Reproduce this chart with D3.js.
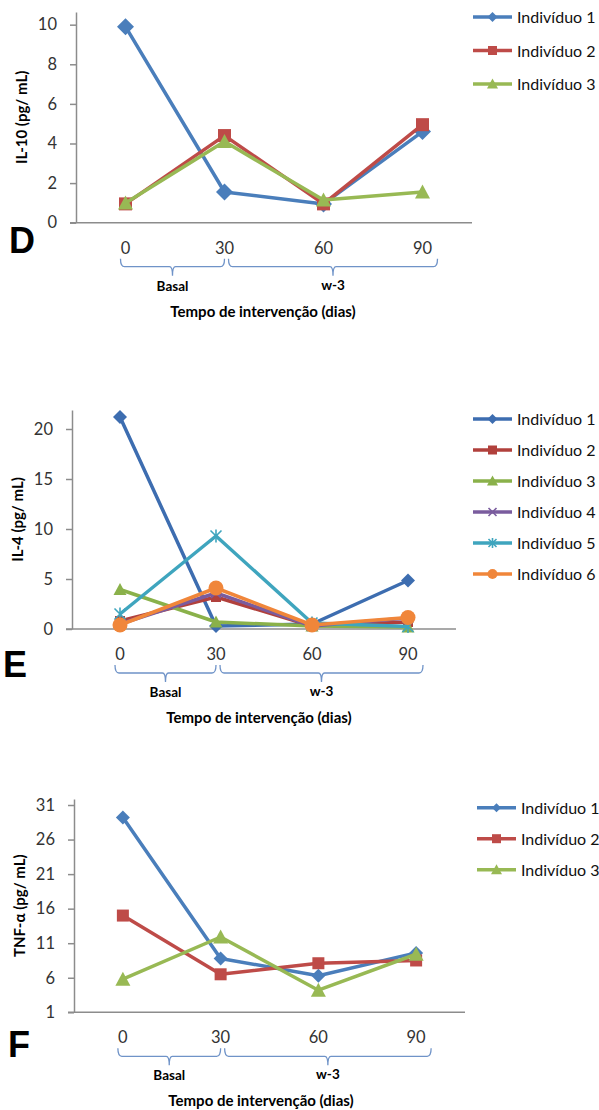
<!DOCTYPE html>
<html>
<head>
<meta charset="utf-8">
<script src="https://cdn.jsdelivr.net/npm/d3@7/dist/d3.min.js"></script>
<style>
    body { margin: 0; background: #fff; }
    svg { display: block; font-family: Lato, "Open Sans", sans-serif; }
</style>
</head>
<body>
<svg id="fig" width="599" height="1110"></svg>
<script>
// dias de intervenção (eixo x)
const dias = ['0', '30', '60', '90'];
const individuos = ['Indivíduo 1', 'Indivíduo 2', 'Indivíduo 3', 'Indivíduo 4', 'Indivíduo 5', 'Indivíduo 6'];

// D - IL-10
const il10Ticks = [0, 2, 4, 6, 8, 10];
const il10Ind1 = [9.9, 1.55, 0.95, 4.6];
const il10Ind2 = [0.95, 4.4, 0.95, 4.95];
const il10Ind3 = [1.0, 4.1, 1.15, 1.55];

// E - IL-4
const il4Ticks = [0, 5, 10, 15, 20];
const il4Ind1 = [21.2, 0.3, 0.5, 4.85];
const il4Ind2 = [0.8, 3.2, 0.3, 0.7];
const il4Ind3 = [3.95, 0.7, 0.3, 0.2];
const il4Ind4 = [0.5, 3.6, 0.3, 1.1];
const il4Ind5 = [1.5, 9.3, 0.6, 0.25];
const il4Ind6 = [0.4, 4.1, 0.4, 1.15];

// F - TNF-α
const tnfTicks = [1, 6, 11, 16, 21, 26, 31];
const tnfInd1 = [29.2, 8.8, 6.3, 9.6];
const tnfInd2 = [15.0, 6.5, 8.1, 8.5];
const tnfInd3 = [5.8, 11.9, 4.2, 9.4];

// cores e marcadores (estilo Excel)
const cores = ['#4a7ebb', '#be4b48', '#98b954', '#7d60a0', '#46aac5', '#f4893a'];
const coresE = ['#3d6db0', '#b1403c', '#8ab14a', '#7a5c9e', '#3fa5be', '#f0863a'];
const marcadores = ['diamond', 'square', 'triangle', 'x', 'star', 'circle'];

let svg = d3.select('#fig');

// desenha um marcador
function drawMarker(g, tipo, x, y, s, cor) {
    if (tipo === 'diamond') {
        g.append('path')
            .attr('d', d3.symbol().type(d3.symbolSquare).size(s * s / 2)())
            .attr('transform', 'translate(' + x + ',' + y + ') rotate(45)')
            .attr('fill', cor);
    } else if (tipo === 'square') {
        g.append('rect')
            .attr('x', x - s / 2 + 1).attr('y', y - s / 2 + 1)
            .attr('width', s - 2).attr('height', s - 2)
            .attr('fill', cor);
    } else if (tipo === 'triangle') {
        g.append('path')
            .attr('d', 'M' + x + ',' + (y - s / 2) + 'L' + (x + s / 2) + ',' + (y + s / 2 - 1) + 'L' + (x - s / 2) + ',' + (y + s / 2 - 1) + 'Z')
            .attr('fill', cor);
    } else if (tipo === 'circle') {
        g.append('circle')
            .attr('cx', x).attr('cy', y).attr('r', s / 2)
            .attr('fill', cor);
    } else {
        let r = s / 2 - 1;
        let d = 'M' + (x - r) + ',' + (y - r) + 'L' + (x + r) + ',' + (y + r) +
            'M' + (x - r) + ',' + (y + r) + 'L' + (x + r) + ',' + (y - r);
        if (tipo === 'star') d += 'M' + x + ',' + (y - r - 1) + 'L' + x + ',' + (y + r + 1);
        g.append('path').attr('d', d)
            .attr('stroke', cor).attr('stroke-width', 1.6).attr('fill', 'none');
    }
}

function drawPanel(cfg) {
    let g = svg.append('g');

    let xScale = d3.scalePoint()
        .domain(dias)
        .range([cfg.left, cfg.right])
        .padding(0.5);
    let yScale = d3.scaleLinear()
        .domain([cfg.yMin, cfg.yMax])
        .range([cfg.bottom, cfg.top]);

    // eixo y
    let yAxis = g.append('g')
        .attr('transform', 'translate(' + cfg.left + ',0)')
        .call(d3.axisLeft(yScale).tickValues(cfg.ticks).tickSize(6).tickSizeOuter(0).tickPadding(13));
    yAxis.select('.domain').attr('stroke', '#8c8c8c').attr('stroke-width', 1.5);
    yAxis.selectAll('.tick line').attr('stroke', '#8c8c8c').attr('stroke-width', 1.5);
    yAxis.selectAll('.tick text')
        .attr('font-size', 16.5)
        .attr('font-family', 'Lato, sans-serif')
        .attr('fill', '#333');

    // linha do eixo x
    g.append('line')
        .attr('x1', cfg.left - 6).attr('x2', cfg.right)
        .attr('y1', cfg.bottom).attr('y2', cfg.bottom)
        .attr('stroke', '#8c8c8c').attr('stroke-width', 1.5);

    // rótulos do eixo x
    g.selectAll('.xlab')
        .data(dias)
        .enter()
        .append('text')
        .attr('x', d => xScale(d))
        .attr('y', cfg.bottom + 31)
        .attr('text-anchor', 'middle')
        .attr('font-size', 16.5)
        .attr('fill', '#333')
        .text(d => d);

    // chaves (Basal / w-3)
    let yTop = cfg.bottom + 36, yMid = cfg.bottom + 44, yTip = cfg.bottom + 53;
    function chave(x1, x2) {
        let xm = (x1 + x2) / 2;
        let p = 'M' + x1 + ',' + yTop +
            'Q' + x1 + ',' + yMid + ' ' + (x1 + 4) + ',' + yMid +
            'L' + (xm - 3) + ',' + yMid +
            'Q' + xm + ',' + yMid + ' ' + xm + ',' + yTip +
            'Q' + xm + ',' + yMid + ' ' + (xm + 3) + ',' + yMid +
            'L' + (x2 - 4) + ',' + yMid +
            'Q' + x2 + ',' + yMid + ' ' + x2 + ',' + yTop;
        g.append('path').attr('d', p)
            .attr('fill', 'none').attr('stroke', '#6f93c8').attr('stroke-width', 1.3);
        return xm;
    }
    let xb = chave(xScale('0') - 5, xScale('30'));
    let xw = chave(xScale('30') + 4, xScale('90') + 15);
    g.append('text').attr('x', xb).attr('y', cfg.bottom + 68)
        .attr('text-anchor', 'middle').attr('font-size', 13.5).attr('font-weight', 'bold')
        .text('Basal');
    g.append('text').attr('x', xw).attr('y', cfg.bottom + 67)
        .attr('text-anchor', 'middle').attr('font-size', 13.5).attr('font-weight', 'bold')
        .text('w-3');

    // título eixo x
    g.append('text')
        .attr('x', cfg.left + 187).attr('y', cfg.bottom + 94)
        .attr('text-anchor', 'middle').attr('font-size', 15).attr('font-weight', 'bold')
        .text('Tempo de intervenção (dias)');

    // título eixo y
    g.append('text')
        .attr('transform', 'translate(' + (cfg.left - 49) + ',' + ((cfg.top + cfg.bottom) / 2) + ') rotate(-90)')
        .attr('text-anchor', 'middle').attr('font-size', 15).attr('font-weight', 'bold')
        .text(cfg.yTitle);

    // letra do painel
    g.append('text')
        .attr('x', cfg.letterX).attr('y', cfg.letterY)
        .attr('font-family', '"Liberation Sans", Arial, sans-serif')
        .attr('font-size', 36).attr('font-weight', 'bold')
        .text(cfg.letter);

    // séries
    let line = d3.line()
        .x((d, i) => xScale(dias[i]))
        .y(d => yScale(d));
    cfg.series.forEach(function (vals, k) {
        let cor = cfg.colors[k];
        let gs = g.append('g');
        gs.append('path')
            .datum(vals)
            .attr('d', line)
            .attr('fill', 'none')
            .attr('stroke', cor)
            .attr('stroke-width', 3.5)
            .attr('stroke-linejoin', 'round');
        vals.forEach(function (v, i) {
            drawMarker(gs, marcadores[k], xScale(dias[i]), yScale(v), cfg.markerSize[k], cor);
        });
    });

    // legenda
    cfg.series.forEach(function (vals, k) {
        let cor = cfg.colors[k];
        let y = cfg.legY + k * cfg.legStep;
        let gl = g.append('g');
        gl.append('line')
            .attr('x1', cfg.legX).attr('x2', cfg.legX + 39)
            .attr('y1', y).attr('y2', y)
            .attr('stroke', cor).attr('stroke-width', 3.5);
        drawMarker(gl, marcadores[k], cfg.legX + 19.5, y, cfg.legMarker[k], cor);
        gl.append('text')
            .attr('x', cfg.legX + 44).attr('y', y + 6)
            .attr('font-size', 16).attr('fill', '#111')
            .text(individuos[k]);
    });
}

drawPanel({
    letter: 'D', letterX: 9, letterY: 253,
    left: 76, right: 472, top: 12, bottom: 222.7,
    yMin: 0, yMax: 10.64, ticks: il10Ticks, yTitle: 'IL-10 (pg/ mL)',
    series: [il10Ind1, il10Ind2, il10Ind3],
    colors: cores, markerSize: [17, 15, 15], legMarker: [10, 11, 11],
    legX: 473, legY: 17, legStep: 33.5
});

drawPanel({
    letter: 'E', letterX: 3, letterY: 677,
    left: 72, right: 456, top: 410, bottom: 629,
    yMin: 0, yMax: 21.9, ticks: il4Ticks, yTitle: 'IL-4 (pg/ mL)',
    series: [il4Ind1, il4Ind2, il4Ind3, il4Ind4, il4Ind5, il4Ind6],
    colors: coresE, markerSize: [14, 12, 13, 12, 13, 15], legMarker: [10, 11, 11, 10, 10, 10],
    legX: 473, legY: 419, legStep: 31
});

drawPanel({
    letter: 'F', letterX: 8, letterY: 1057,
    left: 74, right: 465, top: 799, bottom: 1012.3,
    yMin: 1, yMax: 31.87, ticks: tnfTicks, yTitle: 'TNF-α (pg/ mL)',
    series: [tnfInd1, tnfInd2, tnfInd3],
    colors: cores, markerSize: [14, 14, 15], legMarker: [9, 11, 11],
    legX: 477, legY: 807.7, legStep: 31
});
</script>
</body>
</html>
